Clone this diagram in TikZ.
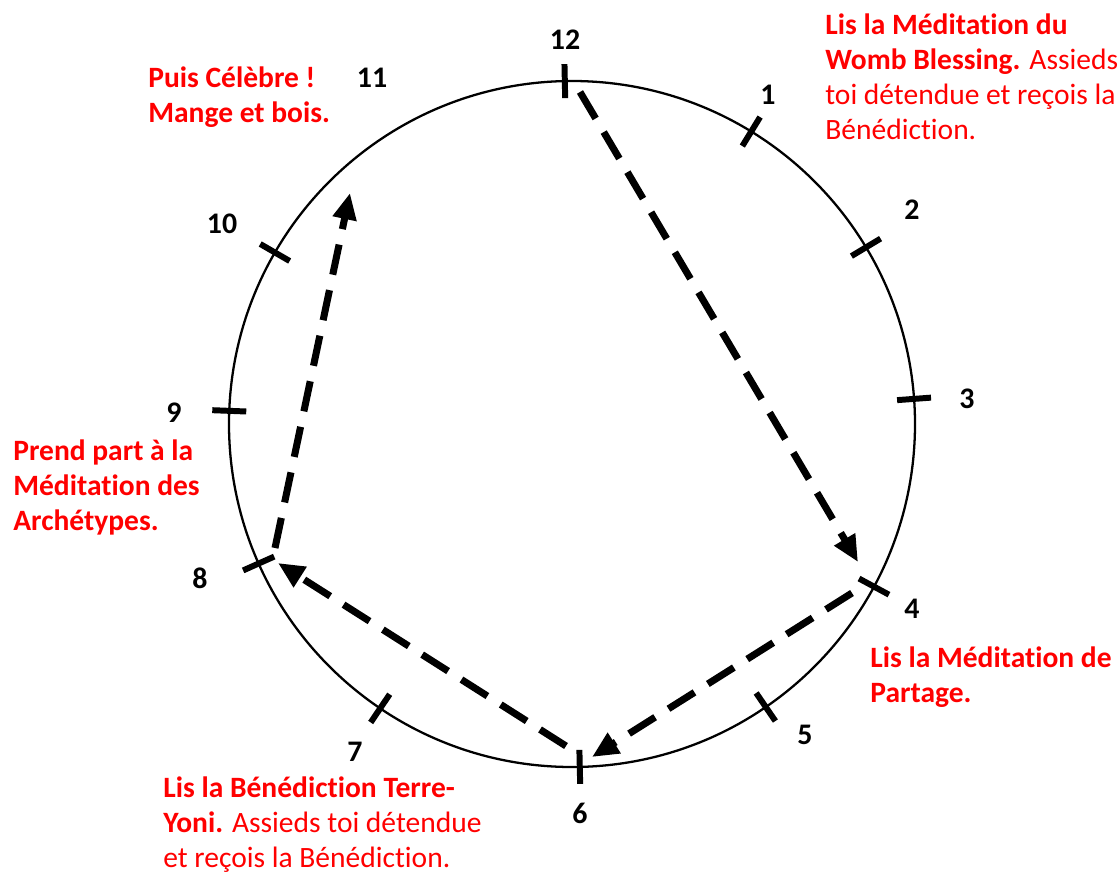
\documentclass[tikz,border=0pt]{standalone}
\usepackage{fontspec}
\setmainfont{Carlito}[Ligatures=CommonOff]
\usetikzlibrary{calc,arrows.meta}
\definecolor{txtred}{RGB}{255,0,0}
\begin{document}
\begin{tikzpicture}[x=0.02cm,y=-0.02cm,
  lbl/.style={text=txtred,align=left,inner sep=0pt,font=\fontsize{16.8}{19.8}\selectfont},
  num/.style={inner sep=0pt,font=\bfseries\fontsize{17}{19.8}\selectfont},
  clocktick/.style={line width=3.4pt},
  flow/.style={line width=4pt,dash pattern=on 17.5pt off 9pt,-{Triangle[length=15pt,width=13pt]}}]
\path[use as bounding box] (0,0) rectangle (1120,872);
\coordinate (c) at (572,424);
\draw[line width=1.3pt] (c) circle (343);
\foreach \a in {91.2,58.5,31,4.2,-28.3,-55.6,-88.7,-124,-156,177.8,150}
  \draw[clocktick] ($(c)+(-\a:326)$) -- ($(c)+(-\a:360)$);
% numbers
\node[num] (n12) at (565,40) {12};
\node[num] (n1) at (768,95) {1};
\node[num] (n2) at (912,210) {2};
\node[num] (n3) at (967,399) {3};
\node[num] (n4) at (912,609) {4};
\node[num] (n5) at (805,735) {5};
\node[num] (n6) at (580,813) {6};
\node[num] (n7) at (355,752) {7};
\node[num] (n8) at (200,578) {8};
\node[num] (n9) at (174,413) {9};
\node[num] (n10) at (222,224) {10};
\node[num] (n11) at (372,78) {11};
% texts (anchored at the baseline of their last line)
\node[lbl,anchor=base west] (t1) at (825,139) {\textbf{Lis la Méditation du}\\\textbf{Womb Blessing.} Assieds\\toi détendue et reçois la\\Bénédiction.};
\node[lbl,anchor=base west] (t2) at (148,122) {\textbf{Puis Célèbre !}\\\textbf{Mange et bois.}};
\node[lbl,anchor=base west] (t3) at (13,530) {\textbf{Prend part à la}\\\textbf{Méditation des}\\\textbf{Archétypes.}};
\node[lbl,anchor=base west] (t4) at (870,702) {\textbf{Lis la Méditation de}\\\textbf{Partage.}};
\node[lbl,anchor=base west] (t5) at (163,867) {\textbf{Lis la Bénédiction Terre-}\\\textbf{Yoni.} Assieds toi détendue\\et reçois la Bénédiction.};
% arrows
\coordinate (a1s) at (580,92);
\coordinate (a1e) at (858,562);
\coordinate (a2s) at (852,593);
\coordinate (a2e) at (592,757);
\coordinate (a3s) at (566,746);
\coordinate (a3e) at (278,563);
\coordinate (a4s) at (275,548);
\coordinate (a4e) at (350,193);
\draw[flow] (a1s) -- (a1e);
\draw[flow] (a2s) -- (a2e);
\draw[flow] (a3s) -- (a3e);
\draw[flow] (a4s) -- (a4e);
\end{tikzpicture}
\end{document}
